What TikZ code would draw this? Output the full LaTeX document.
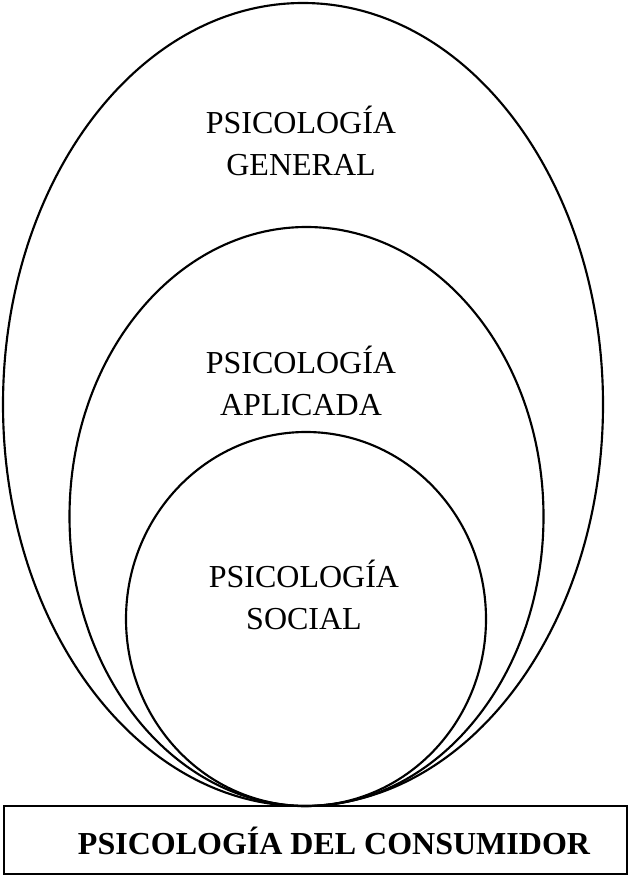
\documentclass[tikz,border=0pt]{standalone}
\usepackage{fontspec}
\setmainfont{Liberation Serif}
\begin{document}
\begin{tikzpicture}[x=0.75pt,y=-0.75pt,
  ring/.style={draw=black,line width=1.6pt},
  label/.style={align=center,font=\fontsize{24}{32}\selectfont,inner sep=0pt},
  basebox/.style={draw=black,line width=1.6pt}]
\useasboundingbox (0,0) rectangle (629,877);
% nested fields of psychology
\draw[ring] (303,404.5) ellipse [x radius=300, y radius=401.5];
\draw[ring] (306.5,516.5) ellipse [x radius=237, y radius=289.5];
\draw[ring] (306,619) ellipse [x radius=180, y radius=187];
\node[label] (gen) at (301,141) {PSICOLOGÍA\\GENERAL};
\node[label] (apl) at (301,381) {PSICOLOGÍA\\APLICADA};
\node[label] (soc) at (304,595) {PSICOLOGÍA\\SOCIAL};
% base box
\draw[basebox] (4,806) rectangle (627,874);
\node[label,font=\fontsize{24}{32}\selectfont\bfseries] (cons) at (334,841) {PSICOLOGÍA DEL CONSUMIDOR};
\end{tikzpicture}
\end{document}
